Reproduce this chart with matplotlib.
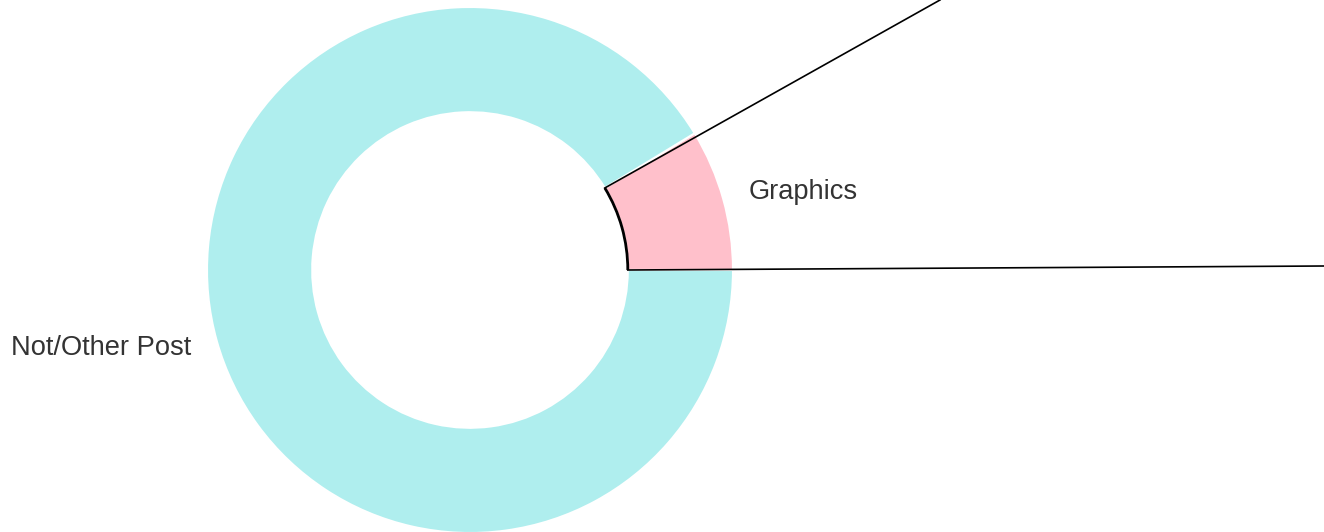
import numpy as np
import matplotlib
matplotlib.use("Agg")
import matplotlib.pyplot as plt
from matplotlib.patches import Arc
from matplotlib.lines import Line2D

# Share of posts by type
categories = ["Graphics", "Not/Other Post"]
shares = [8.7, 91.3]
colors = ["#FFC0CB", "#AFEEEE"]

W, H = 1324, 532
fig = plt.figure(figsize=(W / 100, H / 100), dpi=100)

# Donut axes: centre at (470, 270) px, radius 263 px
cx, cy, R = 470, 270, 263
ax = fig.add_axes([(cx - R) / W, (H - cy - R) / H, 2 * R / W, 2 * R / H])
ring = 0.4
wedges, texts = ax.pie(
    shares, labels=categories, colors=colors, startangle=0,
    labeldistance=1.1, radius=1.0,
    wedgeprops=dict(width=ring, edgecolor="white", linewidth=1.5),
    textprops=dict(fontsize=19.6, color="#333333", family="Liberation Sans"),
)
ax.set_xlim(-1, 1)
ax.set_ylim(-1, 1)
ax.set_aspect("equal")

# Highlight the inner edge of the Graphics wedge and draw the link lines
g = wedges[0]
r_in = 1.0 - ring
ax.add_patch(Arc((0, 0), 2 * r_in, 2 * r_in, theta1=g.theta1, theta2=g.theta2,
                 color="black", linewidth=2, clip_on=False))

def to_data(px, py):
    return (px - cx) / R, (cy - py) / R

for theta, end in [(g.theta2, to_data(940, 0)), (g.theta1, to_data(1324, 266))]:
    t = np.deg2rad(theta)
    start = (r_in * np.cos(t), r_in * np.sin(t))
    ax.add_line(Line2D([start[0], end[0]], [start[1], end[1]],
                       color="black", linewidth=1.2, clip_on=False))

fig.savefig("out.png", dpi=100)
